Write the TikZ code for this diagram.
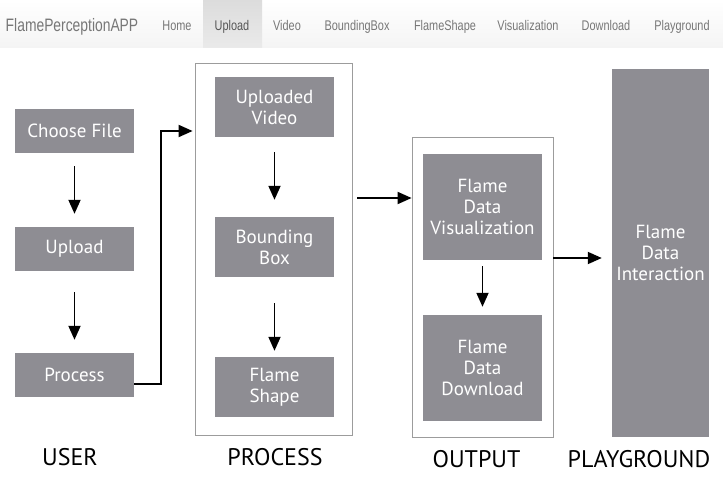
\documentclass[tikz,border=0pt]{standalone}
\usepackage{fontspec}
\setmainfont{PT Sans}
\newfontfamily\navfont{Liberation Sans}
\usepackage{graphicx}
\usetikzlibrary{arrows.meta}

\definecolor{boxgray}{HTML}{8E8D93}
\definecolor{framegray}{HTML}{9C9C9C}
\definecolor{navtext}{HTML}{777777}
\definecolor{navactive}{HTML}{555555}
\definecolor{navbottom}{HTML}{F4F4F4}
\definecolor{tabtop}{HTML}{DCDCDC}
\definecolor{tabbottom}{HTML}{EAEAEA}

\tikzset{
	stepbox/.style={fill=boxgray,text=white,align=center,inner sep=0pt,
		minimum width=119pt,font=\fontsize{19}{21}\selectfont},
	frame/.style={draw=framegray,line width=0.8pt,inner sep=0pt},
	flow/.style={-{Triangle[length=14pt,width=12pt]},line width=1.8pt},
	colname/.style={font=\fontsize{24}{26}\selectfont},
	navitem/.style={font=\navfont\fontsize{14}{16}\selectfont,text=navtext,inner sep=0pt,anchor=base}
}

\begin{document}
\begin{tikzpicture}[x=1pt,y=-1pt]
	\useasboundingbox (0,0) rectangle (723,489);
	
	%navigation bar
	\shade[top color=white,bottom color=navbottom] (0,0) rectangle (723,48);
	\shade[top color=tabtop,bottom color=tabbottom] (203,0) rectangle (262,48);
	\node[navitem,font=\navfont\fontsize{18}{20}\selectfont] (brand) at (72,31.5) {\scalebox{0.77}[1]{FlamePerceptionAPP}};
	\node[navitem] (navhome) at (177,31) {\scalebox{0.78}[1]{Home}};
	\node[navitem,text=navactive] (navupload) at (232,31) {\scalebox{0.78}[1]{Upload}};
	\node[navitem] (navvideo) at (287,31) {\scalebox{0.78}[1]{Video}};
	\node[navitem] (navbbox) at (357,31) {\scalebox{0.78}[1]{BoundingBox}};
	\node[navitem] (navshape) at (445,31) {\scalebox{0.78}[1]{FlameShape}};
	\node[navitem] (navvis) at (528,31) {\scalebox{0.78}[1]{Visualization}};
	\node[navitem] (navdown) at (606,31) {\scalebox{0.78}[1]{Download}};
	\node[navitem] (navplay) at (682,31) {\scalebox{0.78}[1]{Playground}};
	
	%user column
	\node[stepbox,minimum height=44pt] (choose) at (74.5,131) {Choose File};
	\node[stepbox,minimum height=44pt] (upload) at (74.5,249) {Upload};
	\node[stepbox,minimum height=44pt] (process) at (74.5,375) {Process};
	\draw[flow,shorten <=13pt,shorten >=13pt] (choose) -- (upload);
	\draw[flow,shorten <=21pt,shorten >=13pt] (upload) -- (process);
	
	%process column
	\node[frame,minimum width=157pt,minimum height=372pt] (procframe) at (273.5,249) {};
	\node[stepbox,minimum height=60pt] (uvideo) at (274.5,107) {Uploaded\\Video};
	\node[stepbox,minimum height=60pt] (bbox) at (274.5,247) {Bounding\\Box};
	\node[stepbox,minimum height=60pt] (fshape) at (274.5,387) {Flame\\Shape};
	\draw[flow,shorten <=15pt,shorten >=17pt] (uvideo) -- (bbox);
	\draw[flow,shorten <=26pt,shorten >=6pt] (bbox) -- (fshape);
	\draw[flow] ([yshift=-9pt]process.east) -- ++(27,0) |- ([xshift=-2pt]procframe.west |- choose);
	
	%output column
	\node[frame,minimum width=141pt,minimum height=300pt] (outframe) at (482.5,287) {};
	\node[stepbox,minimum height=106pt] (fvis) at (482.5,207) {Flame\\Data\\Visualization};
	\node[stepbox,minimum height=106pt] (fdown) at (482.5,368) {Flame\\Data\\Download};
	\draw[flow,shorten <=6pt,shorten >=8pt] (fvis) -- (fdown);
	\coordinate (toout) at (0,198);
	\draw[flow,shorten <=5pt] (procframe.east |- toout) -- (outframe.west |- toout);
	
	%playground column
	\node[stepbox,minimum width=97pt,minimum height=368pt] (play) at (660.5,253) {Flame\\Data\\Interaction};
	\coordinate (toplay) at (0,258);
	\draw[flow,shorten >=10pt] (outframe.east |- toplay) -- (play.west |- toplay);
	
	%column names
	\node[colname] (username) at (70,457) {USER};
	\node[colname] (procname) at (275,457) {PROCESS};
	\node[colname] (outname) at (476.5,459) {OUTPUT};
	\node[colname] (playname) at (639,459) {PLAYGROUND};
\end{tikzpicture}
\end{document}
